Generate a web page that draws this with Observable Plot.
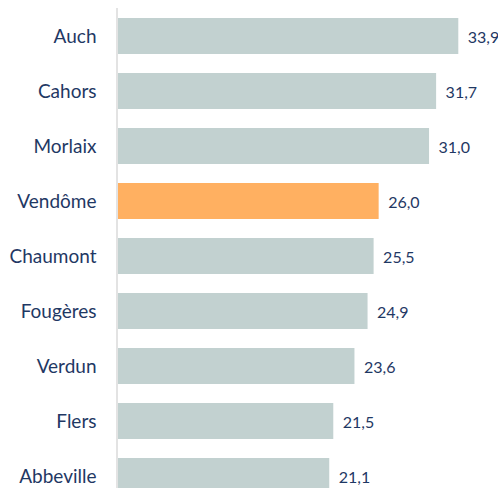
<!DOCTYPE html>
<html>
<head>
<meta charset="utf-8">
<script src="https://cdn.jsdelivr.net/npm/d3@7"></script>
<script src="https://cdn.jsdelivr.net/npm/@observablehq/plot@0.6"></script>
<style>
  html, body { margin: 0; padding: 0; background: #ffffff; }
  #chart svg { display: block; }
</style>
</head>
<body>
<div id="chart"></div>
<script>
const cities = ["Auch", "Cahors", "Morlaix", "Vendôme", "Chaumont", "Fougères", "Verdun", "Flers", "Abbeville"];
const values = [33.9, 31.7, 31.0, 26.0, 25.5, 24.9, 23.6, 21.5, 21.1];
const highlight = "Vendôme";

const data = cities.map((name, i) => ({name, value: values[i]}));
const fmt = d => d.value.toFixed(1).replace(".", ",");
const textColor = "#1f3864";

const chart = Plot.plot({
  width: 498,
  height: 488,
  marginTop: 8,
  marginBottom: 0,
  marginLeft: 0,
  marginRight: 0,
  style: {fontFamily: "Lato, sans-serif", background: "#ffffff"},
  x: {domain: [0, 33.9], range: [116.5, 458.3], axis: null},
  y: {domain: cities, range: [7.6, 505.3], paddingInner: 0.34, paddingOuter: 0.17, axis: null},
  marks: [
    Plot.barX(data, {
      x: "value", y: "name",
      fill: d => d.name === highlight ? "#ffb061" : "#c2d1d0"
    }),
    Plot.ruleX([0], {stroke: "#e3e3e3", strokeWidth: 2}),
    Plot.text(data, {
      x: () => 0, y: "name", text: "name",
      textAnchor: "end", dx: -20.5,
      fill: textColor, fontSize: 19
    }),
    Plot.text(data, {
      x: "value", y: "name", text: fmt,
      textAnchor: "start", dx: 9, dy: 1,
      fill: textColor, fontSize: 16
    })
  ]
});
document.getElementById("chart").appendChild(chart);
</script>
</body>
</html>
